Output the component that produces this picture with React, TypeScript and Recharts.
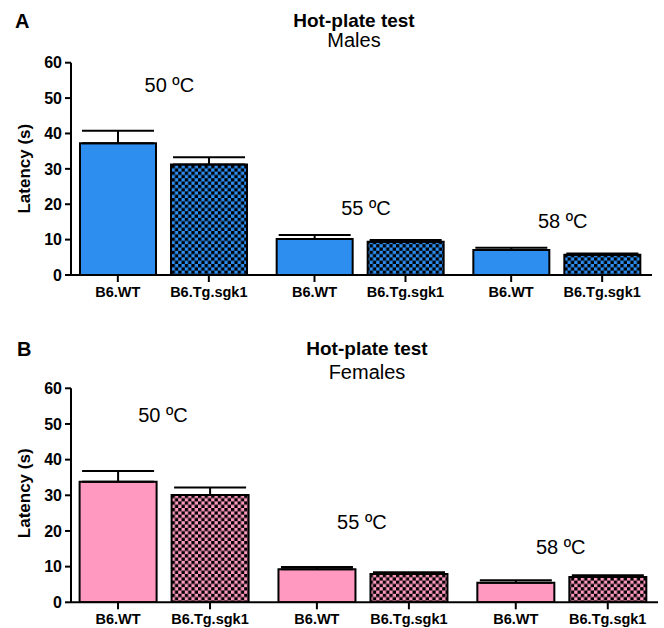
import { ComposedChart, Bar, Line, XAxis, YAxis, ErrorBar, LabelList } from 'recharts';

const FONT = '"Liberation Sans", Arial, Helvetica, sans-serif';

const temperatures = ['50 ºC', '55 ºC', '58 ºC'];
const strains = ['B6.WT', 'B6.Tg.sgk1'];
const yTicks = [0, 10, 20, 30, 40, 50, 60];

// males, mean and SEM
const malesWT = [37.2, 10.2, 7.1];
const malesWTSem = [3.6, 1.1, 0.6];
const malesTg = [31.2, 9.4, 5.7];
const malesTgSem = [2.1, 0.5, 0.4];

// females, mean and SEM
const femalesWT = [33.8, 9.25, 5.5];
const femalesWTSem = [3.0, 0.65, 0.7];
const femalesTg = [30.1, 7.9, 7.1];
const femalesTgSem = [2.1, 0.55, 0.5];

// height (in seconds) where each temperature note sits
const malesNoteLevel = [51.7, 17, 13.2];
const femalesNoteLevel = [50.6, 20.5, 13.5];

const BAR_GAP = 15;
const BLUE = '#2D8EF0';
const PINK = '#FF99BF';

function buildRows(wt: number[], wtSem: number[], tg: number[], tgSem: number[], levels: number[]) {
    return temperatures.map((t, i) => ({
        temp: t,
        wt: wt[i],
        wtErr: [0, wtSem[i]],
        tg: tg[i],
        tgErr: [0, tgSem[i]],
        level: levels[i],
    }));
}

const malesRows = buildRows(malesWT, malesWTSem, malesTg, malesTgSem, malesNoteLevel);
const femalesRows = buildRows(femalesWT, femalesWTSem, femalesTg, femalesTgSem, femalesNoteLevel);

interface PanelProps {
    rows: any[];
    fill: string;
    patternId: string;
    top: number;
    height: number;
    margin: { top: number; right: number; bottom: number; left: number };
    barSize: number;
    padding: { left: number; right: number };
    noteDx: number;
}

function Panel({ rows, fill, patternId, top, height, margin, barSize, padding, noteDx }: PanelProps) {
    const half = (barSize + BAR_GAP) / 2;

    const renderTick = (props: any) => {
        const { x, y } = props;
        const axisY = y - 11;
        return (
            <g>
                {strains.map((s, i) => {
                    const cx = x + (i === 0 ? -half : half);
                    return (
                        <g key={s}>
                            <line x1={cx} x2={cx} y1={axisY} y2={axisY + 7} stroke="#000" strokeWidth={2} />
                            <text x={cx} y={axisY + 22} textAnchor="middle" fontSize={14.5} fontWeight="bold" fontFamily={FONT} fill="#000">
                                {s}
                            </text>
                        </g>
                    );
                })}
            </g>
        );
    };

    const renderNote = (props: any) => {
        const { x, y, value } = props;
        return (
            <text x={x + noteDx} y={y} textAnchor="middle" fontSize={20} fontFamily={FONT} fill="#000">
                {value}
            </text>
        );
    };

    return (
        <div style={{ position: 'absolute', left: 0, top }}>
            <ComposedChart width={664} height={height} data={rows} margin={margin} barGap={BAR_GAP}>
                <defs>
                    <pattern id={patternId} width={6.6} height={6.6} patternUnits="userSpaceOnUse">
                        <rect width={6.6} height={6.6} fill={fill} />
                        <rect width={3.3} height={3.3} fill="#000" />
                        <rect x={3.3} y={3.3} width={3.3} height={3.3} fill="#000" />
                    </pattern>
                </defs>
                <XAxis
                    dataKey="temp"
                    interval={0}
                    height={25}
                    padding={padding}
                    tickLine={false}
                    tickSize={7}
                    tickMargin={4}
                    axisLine={{ stroke: '#000', strokeWidth: 2 }}
                    tick={renderTick}
                />
                <YAxis
                    domain={[0, 60]}
                    ticks={yTicks}
                    interval={0}
                    width={40}
                    allowDataOverflow
                    tickSize={6}
                    tickMargin={3}
                    axisLine={{ stroke: '#000', strokeWidth: 2 }}
                    tickLine={{ stroke: '#000', strokeWidth: 2 }}
                    tick={{ fill: '#000', fontSize: 16, fontWeight: 'bold', fontFamily: FONT }}
                />
                <Bar dataKey="wt" barSize={barSize} fill={fill} stroke="#000" strokeWidth={2} isAnimationActive={false}>
                    <ErrorBar dataKey="wtErr" direction="y" width={36} stroke="#000" strokeWidth={2} />
                </Bar>
                <Bar dataKey="tg" barSize={barSize} fill={`url(#${patternId})`} stroke="#000" strokeWidth={2} isAnimationActive={false}>
                    <ErrorBar dataKey="tgErr" direction="y" width={36} stroke="#000" strokeWidth={2} />
                </Bar>
                <Line dataKey="level" stroke="none" dot={false} activeDot={false} legendType="none" isAnimationActive={false}>
                    <LabelList dataKey="temp" content={renderNote} />
                </Line>
            </ComposedChart>
        </div>
    );
}

export default function App() {
    return (
        <div style={{ position: 'absolute', left: 0, top: 0, width: 664, height: 628, background: '#fff', fontFamily: FONT }}>
            <Panel
                rows={malesRows}
                fill={BLUE}
                patternId="checkBlue"
                top={0}
                height={310}
                margin={{ top: 62.7, right: 12, bottom: 10, left: 31 }}
                barSize={76}
                padding={{ left: -6, right: -3 }}
                noteDx={6}
            />
            <Panel
                rows={femalesRows}
                fill={PINK}
                patternId="checkPink"
                top={310}
                height={318}
                margin={{ top: 78.3, right: 6, bottom: 0.7, left: 31 }}
                barSize={77}
                padding={{ left: -6.4, right: -3.2 }}
                noteDx={-1}
            />

            {/* Titles and axis labels */}
            <svg width={664} height={628} style={{ position: 'absolute', left: 0, top: 0, pointerEvents: 'none' }}>
                <g fontFamily={FONT} fill="#000">
                    <text x={15} y={28} fontSize={20} fontWeight="bold">A</text>
                    <text x={354} y={26.7} fontSize={19} fontWeight="bold" textAnchor="middle">Hot-plate test</text>
                    <text x={354} y={46.7} fontSize={20} textAnchor="middle">Males</text>
                    <text x={30} y={168.7} fontSize={17} fontWeight="bold" textAnchor="middle" transform="rotate(-90 30 168.7)">
                        Latency (s)
                    </text>

                    <text x={17} y={356} fontSize={20} fontWeight="bold">B</text>
                    <text x={367} y={355} fontSize={19} fontWeight="bold" textAnchor="middle">Hot-plate test</text>
                    <text x={367} y={379} fontSize={20} textAnchor="middle">Females</text>
                    <text x={30} y={493.3} fontSize={17} fontWeight="bold" textAnchor="middle" transform="rotate(-90 30 493.3)">
                        Latency (s)
                    </text>
                </g>
            </svg>
        </div>
    );
}
